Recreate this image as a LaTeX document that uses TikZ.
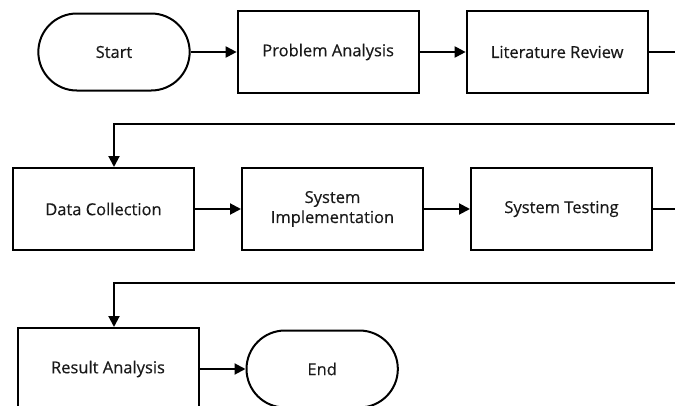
\documentclass[tikz,border=0pt]{standalone}
\usepackage{fontspec}
\setmainfont{Open Sans}[FakeBold=0.4]
\usetikzlibrary{positioning,shapes.misc,arrows.meta}

\begin{document}
\begin{tikzpicture}[
x=1pt, y=-1pt,
node distance=46pt,
stepbox/.style={rectangle, draw=black, line width=2pt, minimum width=181pt, minimum height=82pt, align=center, text=black!90, font=\fontsize{16.5}{20}\selectfont},
termbox/.style={rounded rectangle, draw=black, line width=2pt, minimum width=158pt, minimum height=77pt, text=black!90, font=\fontsize{16.5}{20}\selectfont},
arr/.style={-{Triangle[length=11pt,width=11pt]}, line width=2pt},
]
\useasboundingbox (0,0) rectangle (675,405);
\clip (0,0) rectangle (675,405);

%Nodes
\node[termbox]      (start)     at (114,52)                {Start};
\node[stepbox]      (problem)   [right=of start]           {Problem Analysis};
\node[stepbox]      (review)    [right=of problem]         {Literature Review};
\node[stepbox]      (data)      at (103.5,209)             {Data Collection};
\node[stepbox]      (implement) [right=of data]            {System\\Implementation};
\node[stepbox]      (testing)   [right=of implement]       {System Testing};
\node[stepbox]      (result)    at (108,369)               {Result Analysis};
\node[termbox]      (end)       [right=of result]          {End};

%Turns
\coordinate (out1) at (685,52);
\coordinate (in2)  at (685,124);
\coordinate (out2) at (685,209);
\coordinate (in3)  at (685,283);
\coordinate (drop) at (114,0);

%Lines
\draw[arr] (start.east) -- (problem.west);
\draw[arr] (problem.east) -- (review.west);
\draw[line width=2pt] (review.east) -- (out1);
\draw[arr] (in2) -| (data.north -| drop);
\draw[arr] (data.east) -- (implement.west);
\draw[arr] (implement.east) -- (testing.west);
\draw[line width=2pt] (testing.east) -- (out2);
\draw[arr] (in3) -| (result.north -| drop);
\draw[arr] (result.east) -- (end.west);
\end{tikzpicture}
\end{document}
